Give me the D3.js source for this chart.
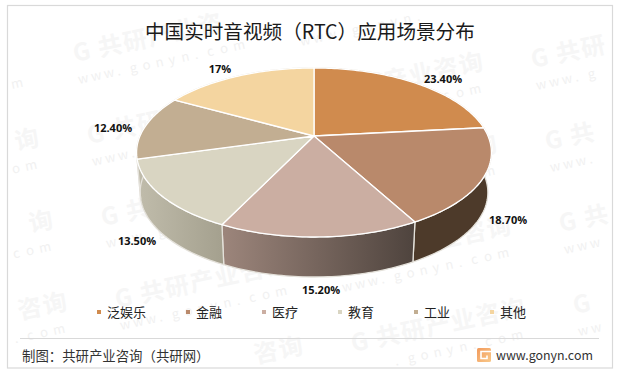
<!DOCTYPE html>
<html>
<head>
<meta charset="utf-8">
<script src="https://cdn.jsdelivr.net/npm/d3@7"></script>
<style>
    html, body { margin: 0; padding: 0; background: #fff; }
    text { font-family: "Noto Sans CJK SC", "Noto Sans", sans-serif; }
    .pct { font-family: "Open Sans", "Noto Sans", sans-serif; font-weight: 700; font-size: 11px; fill: #111; }
</style>
</head>
<body>
<div id="chart"></div>
<script>
// chart data
const categories = ["泛娱乐", "金融", "医疗", "教育", "工业", "其他"];
const shares = [23.4, 18.7, 15.2, 13.5, 12.4, 17];
const shareLabels = ["23.40%", "18.70%", "15.20%", "13.50%", "12.40%", "17%"];

// colours of top faces, and left/right end of each side wall
const topColors = ["#d08b4e", "#b9896b", "#cbaea2", "#d9d5c2", "#c2ae92", "#f4d5a0"];
const wallColors = [["#4d3a2a", "#4d3a2a"], ["#4d3a2a", "#4d3a2a"], ["#9c857b", "#4f443e"],
    ["#bfbbaa", "#a4a08e"], ["#bfbbaa", "#bfbbaa"], ["#bfbbaa", "#bfbbaa"]];

// label anchors, layout only
const labelPos = [[443, 79], [508, 220], [321, 290], [137, 241], [113, 128], [220, 69]];

class PieVis {

    constructor(parentElement){
        this.parentElement = parentElement;
        this.initVis();
    }

    initVis(){
        let vis = this;

        vis.width = 618;
        vis.height = 375;

        vis.svg = d3.select("#" + vis.parentElement).append("svg")
            .attr("width", vis.width)
            .attr("height", vis.height)
            .style("display", "block");

        // perspective of the tilted disc
        vis.cx = 314;
        vis.cy = 136;
        vis.rx = 174;
        vis.ry = 81.3;
        vis.tilt = 0.195;
        vis.depth = 40;
        vis.shrink = 0.98;

        vis.line = d3.line();
        vis.pie = d3.pie().sort(null).value(d => d.value);
        vis.data = vis.pie(categories.map((c, i) => ({name: c, value: shares[i], i: i})));

        vis.drawBackground();
        vis.drawPie();
        vis.drawText();
    }

    // angle (clockwise from 12 o'clock) to screen, on the top face or the bottom rim
    project(a, isBottom){
        let vis = this;
        let u = Math.sin(a), v = -Math.cos(a);
        let w = 1 - vis.tilt * v;
        let x = vis.rx * u / w, y = vis.ry * v / w;
        if (isBottom) {
            return [vis.cx + x * vis.shrink, vis.cy + y + vis.depth];
        }
        return [vis.cx + x, vis.cy + y];
    }

    arcPoints(d, isBottom){
        let vis = this;
        let n = Math.ceil((d.endAngle - d.startAngle) / 0.02);
        return d3.range(n + 1).map(k => vis.project(d.startAngle + (d.endAngle - d.startAngle) * k / n, isBottom));
    }

    // one rotated run of characters, anything that would leave the frame is skipped
    stamp(parent, str, x, y, step, size, weight, color){
        let rad = -12 * Math.PI / 180;
        Array.from(str).forEach((ch, k) => {
            let px = x + k * step * Math.cos(rad);
            let py = y + k * step * Math.sin(rad);
            if (px < 9 || px > 611 - size || py < 7 + size || py > 366) return;
            parent.append("text").text(ch)
                .attr("transform", `translate(${px},${py}) rotate(-12)`)
                .attr("font-size", size)
                .attr("font-weight", weight)
                .attr("fill", color);
        });
    }

    drawBackground(){
        let vis = this;

        // watermarks
        let marks = vis.svg.append("g");
        d3.range(-1, 3).forEach(i => {
            d3.range(-1, 5).forEach(j => {
                let x = 75 + i * 222 + j * 14;
                let y = 62 - i * 38 + j * 82;
                vis.stamp(marks, "G共研产业咨询", x, y, 25.5, 24, 700, "#f6f6f6");
                vis.stamp(marks, "www.gonyn.com", x + 4, y + 22, 13.2, 13, 400, "#f1f1f1");
            });
        });

        // frame
        vis.svg.append("rect")
            .attr("x", 7.5).attr("y", 5.5).attr("width", 605).attr("height", 362.5)
            .attr("fill", "none").attr("stroke", "#d9d9d9").attr("stroke-width", 1.2);

        // footer rule
        vis.svg.append("line")
            .attr("x1", 20).attr("x2", 599).attr("y1", 338.5).attr("y2", 338.5)
            .attr("stroke", "#d9d9d9");
    }

    drawPie(){
        let vis = this;

        // gradients for the walls
        let defs = vis.svg.append("defs");
        vis.data.forEach(d => {
            let xs = vis.arcPoints(d, true).map(p => p[0]);
            let grad = defs.append("linearGradient")
                .attr("id", "wall" + d.data.i)
                .attr("gradientUnits", "userSpaceOnUse")
                .attr("x1", d3.min(xs)).attr("x2", d3.max(xs))
                .attr("y1", 0).attr("y2", 0);
            grad.append("stop").attr("offset", 0).attr("stop-color", wallColors[d.data.i][0]);
            grad.append("stop").attr("offset", 1).attr("stop-color", wallColors[d.data.i][1]);
        });

        // side walls first, the top faces cover whatever is at the back
        vis.svg.append("g").selectAll("path")
            .data(vis.data)
            .enter().append("path")
            .attr("d", d => vis.line(vis.arcPoints(d, false).concat(vis.arcPoints(d, true).reverse())) + "Z")
            .attr("fill", d => `url(#wall${d.data.i})`)
            .attr("stroke", "#e4e1da")
            .attr("stroke-width", 1.3)
            .attr("stroke-linejoin", "round");

        vis.svg.append("g").selectAll("path")
            .data(vis.data)
            .enter().append("path")
            .attr("d", d => vis.line([[vis.cx, vis.cy]].concat(vis.arcPoints(d, false))) + "Z")
            .attr("fill", d => topColors[d.data.i])
            .attr("stroke", "#fff")
            .attr("stroke-width", 1.3)
            .attr("stroke-linejoin", "round");
    }

    drawText(){
        let vis = this;

        // title
        vis.svg.append("text")
            .text("中国实时音视频（RTC）应用场景分布")
            .attr("x", 145).attr("y", 39)
            .attr("font-size", 19.6)
            .attr("fill", "#1a1a1a");

        // value labels
        vis.svg.append("g").selectAll("text")
            .data(vis.data)
            .enter().append("text")
            .attr("class", "pct")
            .attr("text-anchor", "middle")
            .attr("x", d => labelPos[d.data.i][0])
            .attr("y", d => labelPos[d.data.i][1] + 4)
            .text(d => shareLabels[d.data.i]);

        // legend
        let x = 99;
        categories.forEach((c, i) => {
            vis.svg.append("rect")
                .attr("x", x - 2).attr("y", 310)
                .attr("width", 4).attr("height", 4)
                .attr("fill", topColors[i]);
            vis.svg.append("text")
                .text(c)
                .attr("x", x + 8).attr("y", 317)
                .attr("font-size", 13)
                .attr("fill", "#222");
            x += 8 + 13 * c.length + 42;
        });

        // footer
        vis.svg.append("text")
            .text("制图：共研产业咨询（共研网）")
            .attr("x", 22).attr("y", 361)
            .attr("font-size", 13.4)
            .attr("fill", "#333");

        let logoGrad = vis.svg.append("defs").append("linearGradient")
            .attr("id", "logoGrad").attr("x1", 0).attr("x2", 1).attr("y1", 0).attr("y2", 1);
        logoGrad.append("stop").attr("offset", 0).attr("stop-color", "#f29a5c");
        logoGrad.append("stop").attr("offset", 1).attr("stop-color", "#f9c98a");
        vis.svg.append("rect")
            .attr("x", 477).attr("y", 348).attr("width", 14).attr("height", 14).attr("rx", 1.5)
            .attr("fill", "url(#logoGrad)");
        vis.svg.append("path")
            .attr("d", "M491 351.5H481V358.5H487V355.5")
            .attr("fill", "none").attr("stroke", "#fff").attr("stroke-width", 1.6);

        vis.svg.append("text")
            .text("www.gonyn.com")
            .attr("x", 496).attr("y", 360)
            .attr("font-size", 12.4)
            .attr("fill", "#333");
    }
}

new PieVis("chart");
</script>
</body>
</html>
